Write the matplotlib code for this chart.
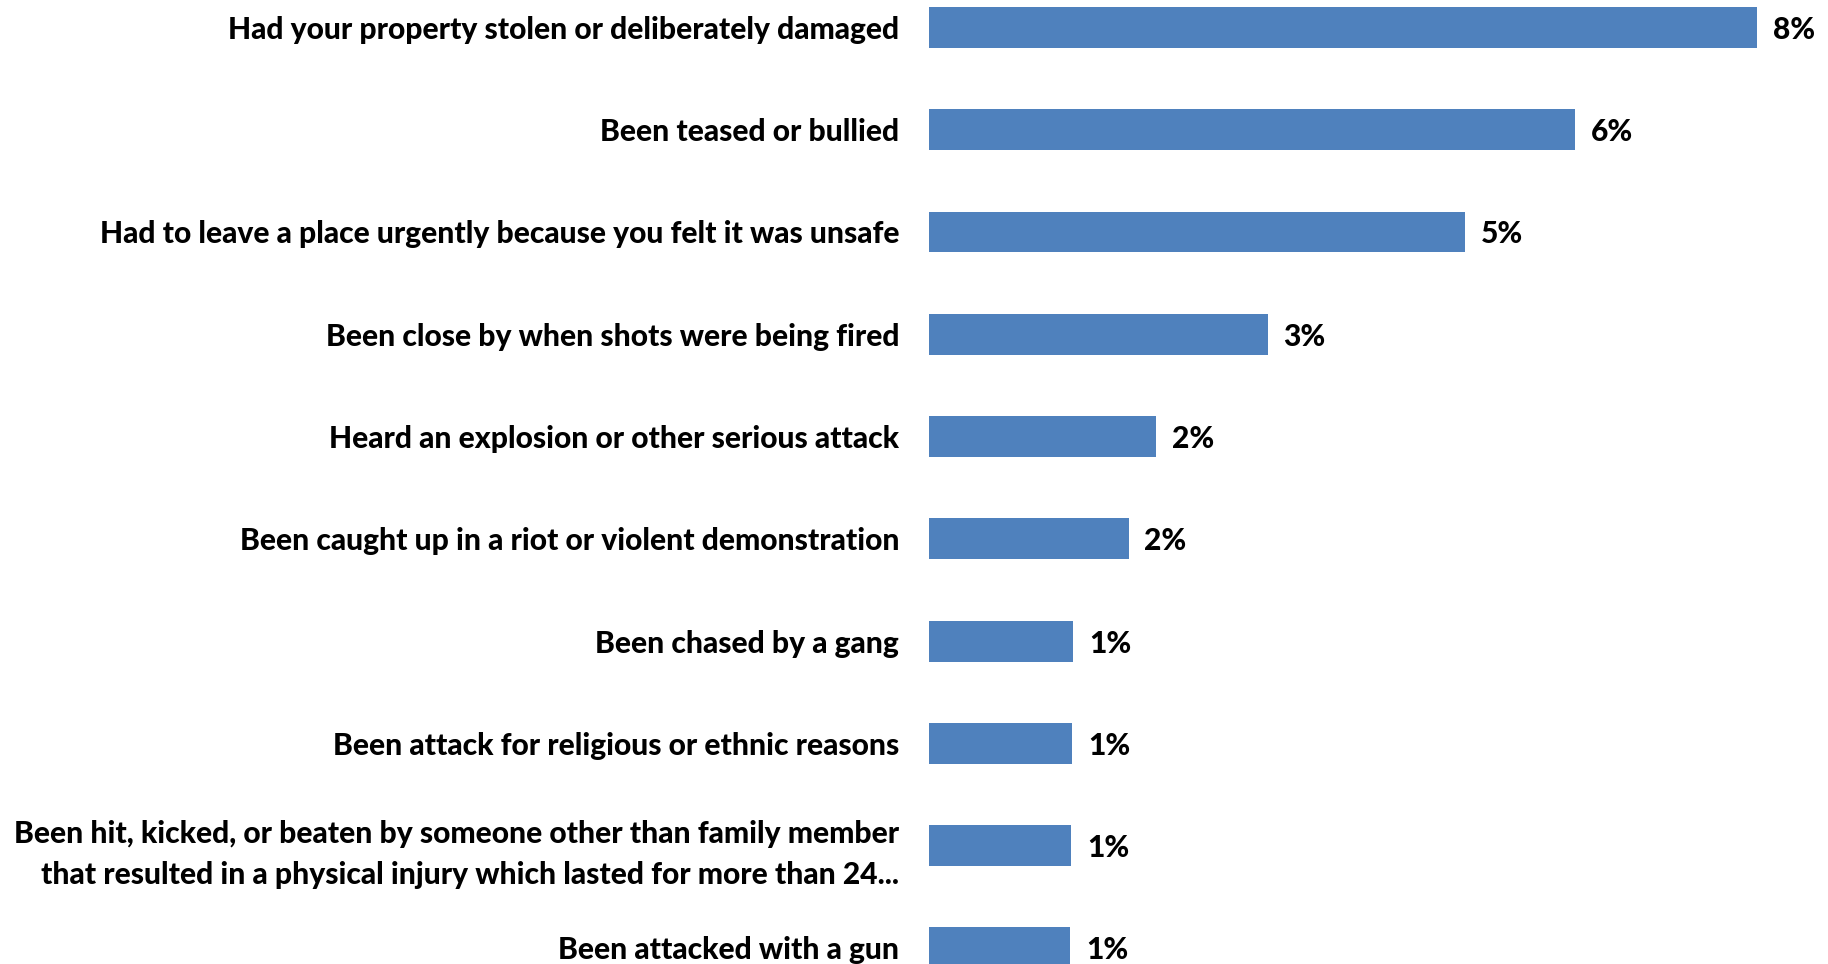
import matplotlib.pyplot as plt

plt.rcParams['font.family'] = ['Lato', 'DejaVu Sans']

categories = [
    'Had your property stolen or deliberately damaged',
    'Been teased or bullied',
    'Had to leave a place urgently because you felt it was unsafe',
    'Been close by when shots were being fired',
    'Heard an explosion or other serious attack',
    'Been caught up in a riot or violent demonstration',
    'Been chased by a gang',
    'Been attack for religious or ethnic reasons',
    'Been hit, kicked, or beaten by someone other than family member\n'
    'that resulted in a physical injury which lasted for more than 24...',
    'Been attacked with a gun',
]
values = [7.8, 6.09, 5.05, 3.19, 2.14, 1.88, 1.36, 1.35, 1.34, 1.33]
labels = ['8%', '6%', '5%', '3%', '2%', '2%', '1%', '1%', '1%', '1%']

fig = plt.figure(figsize=(18.28, 9.64), dpi=100)
ax = fig.add_axes([929 / 1828, 0, 1 - 929 / 1828, 1])

pos = list(range(len(categories)))
ax.barh(pos, values, height=0.4, color='#4f81bd')
for p, v, lab in zip(pos, values, labels):
    ax.text(v + 0.15, p, lab, va='center_baseline', ha='left', fontsize=21.6,
            fontweight='black')

ax.set_ylim(9.157, -0.268)
ax.set_xlim(0, 8.47)
ax.set_yticks(pos)
ax.set_yticklabels(categories, fontsize=21.6, fontweight='black',
                   linespacing=1.55)
ax.tick_params(axis='y', length=0, pad=21.6)
ax.set_xticks([])
for s in ax.spines.values():
    s.set_visible(False)

fig.savefig('out.png', dpi=100)
